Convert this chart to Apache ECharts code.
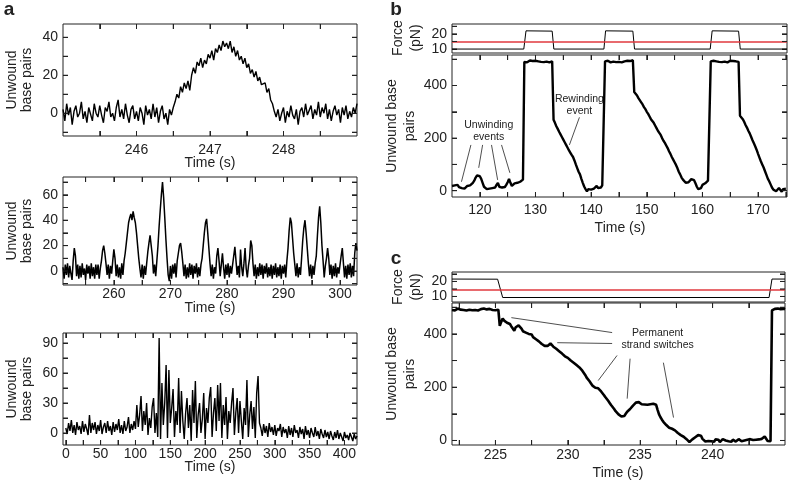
<!DOCTYPE html>
<html><head><meta charset="utf-8">
<script src="https://cdn.jsdelivr.net/npm/echarts@6/dist/echarts.min.js"></script>
<style>html,body{margin:0;padding:0;background:#fff}#c{width:788px;height:482px}</style>
</head><body><div id="c"></div>
<script>
// ---------- DATA ----------
// Panel a (top): sampled every 0.025 s starting at 245 s
var a1Start = 245, a1Step = 0.025;
var a1Y = [
 2,-4,5,-1,3,-6,1,4,-2,0,
 6,-3,1,-5,3,2,-4,5,0,-2,
 4,-1,-5,3,1,6,-2,0,-4,3,
 7,-2,2,-3,5,-1,-5,2,4,-3,
 1,-4,3,0,-6,4,-1,2,-3,5,
 -2,3,-5,1,4,-3,0,-6,2,-1,
 3,6,10,8,14,11,16,13,17,12,
 20,24,21,27,25,29,24,28,26,31,
 29,33,28,34,32,36,33,38,35,37,
 34,38,32,35,30,33,28,30,26,29,
 24,26,21,23,19,22,17,19,15,14,
 16,11,13,7,5,1,-2,2,-4,0,
 3,-5,1,-2,4,-1,-3,2,-6,1,
 3,-2,5,-1,0,4,-3,2,-1,6,
 -2,3,0,5,-3,2,-4,1,4,-1,
 2,-5,3,-1,4,-3,1,-2,3,0,5
];
// Panel a (middle): sampled every 0.2 s starting at 251 s
var a2Start = 251, a2Step = 0.2;
var a2Y = [
 3,-6,5,-3,6,  -5,4,-2,-7,8,  18,12,-4,5,-6,  4,-5,6,-3,2,  -7,5,-2,4,-6,
 6,-4,3,-6,5,  -3,5,-6,2,8,  16,20,14,6,-3,  5,-6,4,-2,8,  17,10,-4,5,-5,
 3,-6,6,-3,8,  14,22,30,38,42,  45,40,47,42,38,  30,20,10,2,-5,  5,-6,4,-3,6,
 15,22,28,20,12,  -2,5,-4,8,20,  35,48,60,70,58,  42,25,10,-3,-8,  4,-6,5,-2,6,
 -5,8,14,20,22,  15,6,-4,5,-6,  3,-5,6,-3,5,  -6,4,-2,6,-5,  3,-4,5,10,20,
 30,38,41,30,18,  6,-4,5,-6,3,  -2,12,18,8,-4,  5,14,3,-6,5,  -3,6,-5,4,-2,
 5,12,19,8,-3,  4,-5,17,3,-4,  6,18,2,-5,4,  10,24,20,6,-4,  5,-6,3,-4,6,
 -3,5,-6,4,-2,  6,-5,3,-4,5,  -6,4,-3,6,-5,  3,-4,5,-6,4,  -2,5,-5,8,18,
 32,42,38,26,14,  5,-4,6,-5,3,  -3,10,24,34,40,  30,18,6,-4,5,  -6,4,-3,6,12,
 28,42,51,38,20,  8,-5,4,10,18,  10,-3,5,-6,4,  -4,6,-5,3,-2,  5,12,18,6,-5,
 4,-6,5,-3,6,  -5,4,-4,14,22,  16
];
// Panel a (bottom): sampled every 2 s starting at 0 s
var a3Start = 0, a3Step = 2;
var a3Y = [
 5,-1,10,2,13,0,8,-2,11,3,
 7,-1,12,1,9,4,-2,18,0,10,
 3,11,-1,8,2,13,-1,6,10,0,
 12,2,7,-2,11,1,9,3,14,0,
 8,-1,12,2,6,16,0,9,3,12,
 4,28,6,18,37,2,22,8,30,-2,
 15,5,26,35,0,20,-4,95,-6,50,
 8,30,68,-5,63,10,25,44,-4,22,
 8,55,0,42,12,-6,20,35,5,28,
 -8,43,10,52,-5,18,30,0,14,40,
 -6,25,10,35,46,-4,20,35,2,48,
 12,50,-5,28,8,36,-6,22,10,30,
 45,-2,20,35,0,32,12,-6,25,8,
 53,-4,18,32,4,26,-5,40,57,10,
 5,-3,9,0,7,-4,10,1,6,-2,
 8,-3,5,2,9,-4,6,0,4,-5,
 7,-2,5,-4,8,0,3,-5,6,-1,
 4,-6,7,-2,3,-5,5,0,-4,6,
 -3,2,-6,4,-1,-5,3,-4,1,-6,
 2,-3,-7,1,-5,3,-6,0,-4,-8,
 1,-5,-2,-7,0,-4,-8,-1,-6,-3
];
// Panel b: unwound base pairs, every 0.25 s from 115 s
var bStart = 115, bStep = 0.25;
var bY = [
 18,12,20,15, 22,14,18,10, 15,8,12,18, 14,20,25,30, 38,50,58,62,
 55,45,30,15, 10,6,12,8, 14,10,6,12, 22,30,15,8, 12,18,14,22,
 32,45,30,18, 22,28,24,30, 26,34,38,42, 490,494,488,492, 495,489,493,490,
 494,488,492,496, 490,494,489,493, 491,495,488,494, 492,270,258,245, 235,224,214,204,
 194,184,174,164, 154,145,136,128, 115,100,86,72, 62,45,30,16, 6,-2,6,12,
 4,-3,8,14, 18,10,4,12, 20,18,492,490, 494,490,488,493, 491,495,489,492,
 490,494,488,495, 492,489,494,490, 493,488,496,375, 370,362,352,345, 336,328,318,310,
 300,292,282,272, 265,258,248,238, 228,220,212,200, 190,182,172,162, 150,140,128,118,
 108,98,86,72, 62,50,42,36, 30,25,32,38, 44,48,40,28, 15,6,3,10,
 22,18,28,35, 38,42,492,490, 494,488,492,495, 490,493,489,494, 491,495,488,492,
 494,490,493,489, 492,495,490,285, 280,272,262,250, 240,228,218,205, 192,180,168,155,
 140,126,112,100, 88,74,60,46, 36,24,12,4, 2,-2,5,10, 3,-4,6,2,
 8
];
// Panel b: force protocol [time s, force pN]
var bForce = [[115,10],[127.9,10],[128.3,22],[133.0,21.8],[133.3,10],[142.3,10],[142.6,22],
  [147.5,21.8],[147.8,10],[161.4,10],[161.75,22],[166.5,21.8],[166.8,10],[175.2,10]];
// Panel c: unwound base pairs, every 0.1 s from 222 s
var cStart = 222, cStep = 0.1;
var cY = [
 490,493,488,492,495,489,491,494,490,492,
 488,493,491,495,489,492,490,494,488,491,
 493,490,495,489,492,488,494,491,490,493,
 489,492,491,430,445,458,450,455,442,446,
 437,428,420,412,425,430,432,428,420,410,
 414,405,408,400,395,398,388,392,380,376,
 372,368,362,358,355,350,355,360,364,358,
 352,348,344,340,335,330,326,320,316,312,
 310,306,300,296,292,288,283,280,274,270,
 262,256,246,236,230,222,214,206,200,198,
 195,196,192,184,178,170,162,155,148,140,
 132,125,118,110,104,98,94,90,95,92,
 100,108,112,118,125,131,138,142,140,144,
 138,136,140,135,137,134,139,136,135,138,
 136,134,115,98,87,78,70,64,58,52,
 48,45,44,42,38,32,28,24,20,19,
 14,10,5,0,-6,-2,4,10,12,18,
 20,25,18,6,0,-4,3,-2,5,-3,
 2,-5,4,-1,3,-6,1,5,-2,0,
 4,-3,2,-5,3,0,-4,2,5,-1,
 -3,4,0,-4,3,-2,5,-1,2,-5,
 3,0,4,-2,6,10,15,8,-2,-5,
 -3,488,492,494,491,495,489,493,490,494,
 492
];
var cForce = [[222,21.6],[225.15,21.5],[225.5,9.3],[243.9,9.3],[244.1,21.6],[245,21.6]];
var forceThreshold = 14.5;

// tick labels / tick positions
var a1XLabels=[246,247,248], a1XTicks=[245.5,246,246.5,247,247.5,248,248.5];
var a1YLabels=[0,20,40], a1YTicks=[-10,0,10,20,30,40];
var a2XLabels=[260,270,280,290,300], a2XTicks=[255,260,265,270,275,280,285,290,295,300];
var a2YLabels=[0,20,40,60], a2YTicks=[-10,0,10,20,30,40,50,60,70];
var a3XLabels=[0,50,100,150,200,250,300,350,400], a3XTicks=[0,25,50,75,100,125,150,175,200,225,250,275,300,325,350,375,400];
var a3YLabels=[0,30,60,90], a3YTicks=[0,15,30,45,60,75,90];
var bXLabels=[120,130,140,150,160,170], bXTicks=[120,125,130,135,140,145,150,155,160,165,170,175];
var cXLabels=[225,230,235,240], cXTicks=[222.5,225,227.5,230,232.5,235,237.5,240,242.5];
var mainYLabels=[0,200,400], mainYTicks=[0,100,200,300,400,500];
var forceYLabels=[10,20], forceYTicks=[10,15,20,25];

// annotations (data coordinates)
var bArrows = [[[118.4,174],[116.7,34]],[[120.5,174],[119.8,87]],[[122.1,174],[123.2,41]],[[123.9,174],[125.4,68]],[[137.9,279],[136.1,174]]];
var bNotes = [[121.6,226,'Unwinding\nevents'],[137.9,325,'Rewinding\nevent']];
var cArrows = [[[233.06,405],[226.1,461]],[[233.06,364],[229.27,367]],[[233.4,319],[232.1,225]],[[234.3,307],[234.1,157]],[[236.6,292],[237.3,86]]];
var cNotes = [[236.2,382,'Permanent\nstrand switches']];

// ---------- CHART ----------
var FONT = "'Liberation Sans', Arial, Helvetica, sans-serif";
function seq(arr, start, step){ return arr.map(function(v,i){ return [start + i*step, v]; }); }

var grids = [
  {left:63, top:24, width:294, height:112},   // a1
  {left:63, top:177, width:294, height:108},  // a2
  {left:63, top:333, width:294, height:112},  // a3
  {left:452, top:24, width:335, height:29},   // b force
  {left:452, top:55, width:335, height:142},  // b main
  {left:452, top:272, width:333, height:30},  // c force
  {left:452, top:303, width:333, height:142}  // c main
];
grids.forEach(function(g){ g.show = true; g.borderColor = '#222'; g.borderWidth = 1; });

var xAxes = [], yAxes = [], tickSeries = [];
function noLine(){ return {show:false, onZero:false, lineStyle:{color:'#222'}}; }
function axTick(vals){ return vals ? {show:true, inside:true, length:5, customValues:vals.slice()} : {show:false}; }
// inward tick marks on all four sides, placed through the axes' own scales
function addTicks(gi, xr, yr, xt, yt){
  var d = [];
  (xt || []).forEach(function(v){ d.push([v, yr[0], 0, yr[1]]); });
  yt.forEach(function(v){ d.push([xr[0], v, 1, xr[1]]); });
  tickSeries.push({type:'custom', xAxisIndex:2*gi, yAxisIndex:2*gi, silent:true, animation:false, clip:false, z:5,
    data:d,
    renderItem:function(params, api){
      var kind = api.value(2), L = 5, a, b;
      if (kind === 0) {
        a = api.coord([api.value(0), api.value(1)]);
        b = api.coord([api.value(0), api.value(3)]);
        return {type:'group', children:[
          {type:'line', shape:{x1:a[0], y1:a[1], x2:a[0], y2:a[1]-L}, style:{stroke:'#222', lineWidth:1}},
          {type:'line', shape:{x1:b[0], y1:b[1], x2:b[0], y2:b[1]+L}, style:{stroke:'#222', lineWidth:1}}]};
      }
      a = api.coord([api.value(0), api.value(1)]);
      b = api.coord([api.value(3), api.value(1)]);
      return {type:'group', children:[
        {type:'line', shape:{x1:a[0], y1:a[1], x2:a[0]+L, y2:a[1]}, style:{stroke:'#222', lineWidth:1}},
        {type:'line', shape:{x1:b[0], y1:b[1], x2:b[0]-L, y2:b[1]}, style:{stroke:'#222', lineWidth:1}}]};
    }});
}
function addAxes(gi, xr, yr, xl, xt, yl, yt, xMargin){
  function lab(){ return {fontSize:14, color:'#222', fontFamily:FONT}; }
  xAxes.push({gridIndex:gi, type:'value', min:xr[0], max:xr[1], position:'bottom',
    axisLine:noLine(), splitLine:{show:false}, axisTick:axTick(xt),
    axisLabel: xl ? Object.assign({customValues:xl.slice(), margin:xMargin}, lab()) : {show:false}});
  xAxes.push({gridIndex:gi, type:'value', min:xr[0], max:xr[1], position:'top',
    axisLine:noLine(), splitLine:{show:false}, axisTick:axTick(xt), axisLabel:{show:false}});
  yAxes.push({gridIndex:gi, type:'value', min:yr[0], max:yr[1], position:'left',
    axisLine:noLine(), splitLine:{show:false}, axisTick:axTick(yt),
    axisLabel:Object.assign({customValues:yl.slice(), margin:5}, lab())});
  yAxes.push({gridIndex:gi, type:'value', min:yr[0], max:yr[1], position:'right',
    axisLine:noLine(), splitLine:{show:false}, axisTick:axTick(yt), axisLabel:{show:false}});
  addTicks(gi, xr, yr, xt, yt);
}
addAxes(0,[245,249],[-12,47],a1XLabels,a1XTicks,a1YLabels,a1YTicks,7);
addAxes(1,[251,303],[-11,74],a2XLabels,a2XTicks,a2YLabels,a2YTicks,2);
addAxes(2,[-4,418],[-12,100],a3XLabels,a3XTicks,a3YLabels,a3YTicks,2);
addAxes(3,[115,175.2],[7.4,26.5],null,null,forceYLabels,forceYTicks,0);
addAxes(4,[115,175.2],[-24,516],bXLabels,bXTicks,mainYLabels,mainYTicks,6);
addAxes(5,[222,245],[6.3,26.3],null,null,forceYLabels,forceYTicks,0);
addAxes(6,[222,245],[-17,516],cXLabels,cXTicks,mainYLabels,mainYTicks,3);

function lineSeries(gi, data, w, extra){
  return Object.assign({type:'line', xAxisIndex:2*gi, yAxisIndex:2*gi, data:data,
    showSymbol:false, symbol:'none', silent:true, animation:false,
    lineStyle:{color:'#000', width:w}}, extra || {});
}
function arrowMark(list){
  return {silent:true, symbol:['none','arrow'], symbolSize:[0,6], animation:false,
    lineStyle:{color:'#222', width:0.8, type:'solid'}, label:{show:false},
    data:list.map(function(a){ return [{coord:a[0]},{coord:a[1]}]; })};
}
function noteMark(list){
  return {silent:true, animation:false, symbol:'circle', symbolSize:0,
    data:list.map(function(n){ return {coord:[n[0],n[1]], label:{show:true, position:'inside',
      formatter:n[2], fontSize:10.5, lineHeight:12, color:'#222', fontFamily:FONT}}; })};
}
function redLine(){ return {silent:true, symbol:'none', animation:false, label:{show:false},
  lineStyle:{color:'#e0393e', width:1.5, type:'solid'}, data:[{yAxis:forceThreshold}]}; }

var series = [
  lineSeries(0, seq(a1Y,a1Start,a1Step), 1.4),
  lineSeries(1, seq(a2Y,a2Start,a2Step), 1.5),
  lineSeries(2, seq(a3Y,a3Start,a3Step), 1.4),
  lineSeries(3, bForce, 1, {markLine:redLine()}),
  lineSeries(4, seq(bY,bStart,bStep), 2.4, {markLine:arrowMark(bArrows), markPoint:noteMark(bNotes)}),
  lineSeries(5, cForce, 1, {markLine:redLine()}),
  lineSeries(6, seq(cY,cStart,cStep), 2.6, {markLine:arrowMark(cArrows), markPoint:noteMark(cNotes)})
].concat(tickSeries);

function txt(x, y, s, opt){
  opt = opt || {};
  return {type:'text', x:x, y:y, rotation:opt.rot || 0, silent:true,
    style:{text:s, fontSize:opt.size || 14, fontWeight:opt.weight || 'normal', fontFamily:FONT,
      fill:'#222', lineHeight:opt.lh || 16, textAlign:'center', align:'center',
      textVerticalAlign:'middle', verticalAlign:'middle'}};
}
var R = Math.PI/2;
var graphics = [
  txt(9, 10, 'a', {size:19, weight:'bold'}),
  txt(396, 10, 'b', {size:19, weight:'bold'}),
  txt(396, 259, 'c', {size:19, weight:'bold'}),
  txt(20, 80, 'Unwound\nbase pairs', {rot:R, lh:15}),
  txt(20, 231, 'Unwound\nbase pairs', {rot:R, lh:15}),
  txt(20, 389, 'Unwound\nbase pairs', {rot:R, lh:15}),
  txt(210, 163, 'Time (s)'),
  txt(210, 308, 'Time (s)'),
  txt(210, 467, 'Time (s)'),
  txt(407, 38, 'Force\n(pN)', {rot:R, lh:18}),
  txt(401, 126, 'Unwound base\npairs', {rot:R, lh:18}),
  txt(620, 228, 'Time (s)'),
  txt(407, 287, 'Force\n(pN)', {rot:R, lh:18}),
  txt(401, 374, 'Unwound base\npairs', {rot:R, lh:18}),
  txt(618, 473, 'Time (s)')
];

var chart = echarts.init(document.getElementById('c'));
chart.setOption({
  animation:false, backgroundColor:'#fff',
  grid:grids, xAxis:xAxes, yAxis:yAxes, series:series, graphic:graphics
});
</script></body></html>
